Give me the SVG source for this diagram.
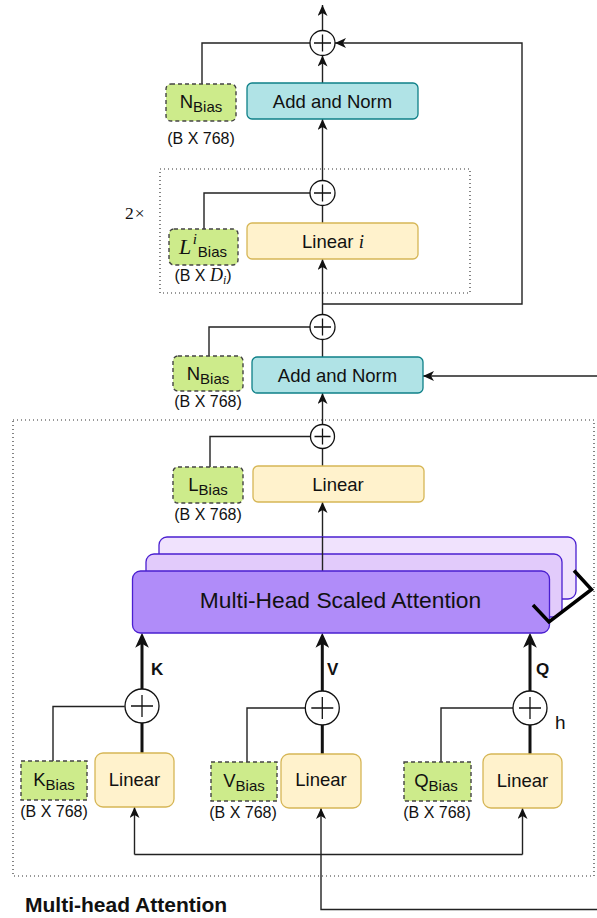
<svg xmlns="http://www.w3.org/2000/svg" width="597" height="918" viewBox="0 0 597 918">
  <style>
    text { font-family: "Liberation Sans", Arial, sans-serif; fill: #111; }
    .lbl { font-size: 18.5px; text-anchor: middle; }
    .sub { font-size: 15px; }
    .dim { font-size: 16px; text-anchor: middle; }
    .math { font-family: "Liberation Serif", "DejaVu Serif", serif; font-style: italic; }
    .norm { fill: #b0e3e6; stroke: #0e8088; stroke-width: 1.3; }
    .lin { fill: #fff2cc; stroke: #d6b656; stroke-width: 1.3; }
    .bias { fill: #cdeb8b; stroke: #444; stroke-width: 1.4; stroke-dasharray: 4 3; }
    .frame { fill: none; stroke: #333; stroke-width: 1.2; stroke-dasharray: 1 3; }
    .wire { fill: none; stroke: #222; stroke-width: 1.4; }
    .thick { fill: none; stroke: #111; stroke-width: 3; }
    .add circle { fill: #fff; stroke: #111; stroke-width: 1.3; }
    .add path { fill: none; stroke: #111; stroke-width: 1.3; }
    .head { stroke: #4a1fd0; stroke-width: 1.3; }
    .qkv { font-size: 17px; font-weight: bold; }
  </style>
  <defs>
    <marker id="arr" viewBox="0 0 11 10" refX="11" refY="5" markerWidth="11" markerHeight="10" markerUnits="userSpaceOnUse" orient="auto">
      <path d="M0,0 L11,5 L0,10 L3,5 Z" fill="#111"/>
    </marker>
    <marker id="arrBold" viewBox="0 0 11 10" refX="7.5" refY="5" markerWidth="15" markerHeight="14" markerUnits="userSpaceOnUse" orient="auto">
      <path d="M0,0 L11,5 L0,10 L3,5 Z" fill="#111"/>
    </marker>
  </defs>

  <!-- frames -->
  <rect class="frame" x="160" y="169" width="310" height="124"/>
  <rect class="frame" x="13" y="420" width="581" height="456"/>
  <text x="125" y="219" style="font-family:'Liberation Serif','DejaVu Serif',serif;font-size:17.5px">2<tspan dx="1">×</tspan></text>
  <text x="25" y="912" style="font-size:21px;font-weight:bold">Multi-head Attention</text>

  <!-- connectors -->
  <g id="connectors">
    <line class="wire" x1="322.5" y1="30.5" x2="322.5" y2="5" marker-end="url(#arr)"/>
    <polyline class="wire" points="202,84 202,43 310,43"/>
    <line class="wire" x1="322.5" y1="83" x2="322.5" y2="55.5" marker-end="url(#arr)"/>
    <polyline class="wire" points="322.5,304 522,304 522,43 335,43" marker-end="url(#arr)"/>
    <line class="wire" x1="322.5" y1="180.5" x2="322.5" y2="119" marker-end="url(#arr)"/>
    <polyline class="wire" points="204,229 204,193 310,193"/>
    <line class="wire" x1="322.5" y1="223" x2="322.5" y2="205.5"/>
    <line class="wire" x1="322.5" y1="314.5" x2="322.5" y2="259" marker-end="url(#arr)"/>
    <polyline class="wire" points="209,356 209,327 310,327"/>
    <line class="wire" x1="322.5" y1="357" x2="322.5" y2="339.5"/>
    <line class="wire" x1="597" y1="376" x2="423" y2="376" marker-end="url(#arr)"/>
    <line class="wire" x1="322.5" y1="424.5" x2="322.5" y2="393" marker-end="url(#arr)"/>
    <polyline class="wire" points="210,467 210,436.5 310.5,436.5"/>
    <line class="wire" x1="322.5" y1="466" x2="322.5" y2="448.5"/>
    <line class="wire" x1="322.5" y1="571" x2="322.5" y2="502" marker-end="url(#arr)"/>

    <!-- K / V / Q branches -->
    <polyline class="wire" points="53,761 53,706.5 124.7,706.5"/>
    <polyline class="wire" points="247,762 247,708 305.3,708"/>
    <polyline class="wire" points="441,762 441,708 513,708"/>
    <line class="thick" x1="142" y1="753" x2="142" y2="723"/>
    <line class="thick" x1="322.3" y1="754" x2="322.3" y2="725"/>
    <line class="thick" x1="530" y1="754" x2="530" y2="725"/>
    <line class="thick" x1="142" y1="689" x2="142" y2="637.5" marker-end="url(#arrBold)"/>
    <line class="thick" x1="322.3" y1="691" x2="322.3" y2="637.5" marker-end="url(#arrBold)"/>
    <line class="thick" x1="530" y1="691" x2="530" y2="637.5" marker-end="url(#arrBold)"/>

    <polyline class="wire" points="134.5,854.5 522.5,854.5"/>
    <line class="wire" x1="134.5" y1="854.5" x2="134.5" y2="807" marker-end="url(#arr)"/>
    <line class="wire" x1="522.5" y1="854.5" x2="522.5" y2="808" marker-end="url(#arr)"/>
    <polyline class="wire" points="597,909.5 321,909.5 321,808" marker-end="url(#arr)"/>
  </g>

  <!-- output block -->
  <g id="sum-out" class="add"><circle cx="322.5" cy="43" r="12.5"/><path d="M314,43 H331 M322.5,34.5 V51.5"/></g>
  <g id="n-bias-out">
    <rect class="bias" x="166" y="84" width="70" height="37" rx="5"/>
    <text class="lbl" x="201" y="108">N<tspan class="sub" dy="4">Bias</tspan></text>
    <text class="dim" x="201" y="144">(B X 768)</text>
  </g>
  <g id="add-norm-out">
    <rect class="norm" x="247" y="83" width="171" height="36" rx="5"/>
    <text class="lbl" x="332.5" y="108">Add and Norm</text>
  </g>

  <!-- feed-forward stack -->
  <g id="sum-ff" class="add"><circle cx="322.5" cy="193" r="12.5"/><path d="M314,193 H331 M322.5,184.5 V201.5"/></g>
  <g id="l-bias-ff">
    <rect class="bias" x="169" y="229" width="69" height="36" rx="5"/>
    <text class="lbl" x="203" y="254"><tspan class="math" font-size="22">L</tspan><tspan class="math" font-size="15" dx="1.5" dy="-10">i</tspan><tspan class="sub" dx="1" dy="13">Bias</tspan></text>
    <text class="dim" x="203" y="281">(B X <tspan class="math" font-size="18">D</tspan><tspan class="math" font-size="12" dy="3">i</tspan><tspan dy="-3">)</tspan></text>
  </g>
  <g id="linear-ff">
    <rect class="lin" x="247" y="223" width="171" height="36" rx="5"/>
    <text class="lbl" x="333" y="248">Linear <tspan class="math" font-size="19">i</tspan></text>
  </g>

  <!-- attention output -->
  <g id="sum-attn" class="add"><circle cx="322.5" cy="327" r="12.5"/><path d="M314,327 H331 M322.5,318.5 V335.5"/></g>
  <g id="n-bias-attn">
    <rect class="bias" x="173" y="356" width="70" height="35" rx="5"/>
    <text class="lbl" x="208" y="379.5">N<tspan class="sub" dy="4">Bias</tspan></text>
    <text class="dim" x="208" y="407">(B X 768)</text>
  </g>
  <g id="add-norm-attn">
    <rect class="norm" x="252" y="357" width="171" height="36" rx="5"/>
    <text class="lbl" x="337.5" y="382">Add and Norm</text>
  </g>

  <!-- projection -->
  <g id="sum-proj" class="add"><circle cx="322.5" cy="436.5" r="12"/><path d="M314.5,436.5 H330.5 M322.5,428.5 V444.5"/></g>
  <g id="l-bias-proj">
    <rect class="bias" x="173" y="467" width="70" height="36" rx="5"/>
    <text class="lbl" x="208" y="491">L<tspan class="sub" dy="4">Bias</tspan></text>
    <text class="dim" x="208" y="520">(B X 768)</text>
  </g>
  <g id="linear-proj">
    <rect class="lin" x="253" y="466" width="171" height="36" rx="5"/>
    <text class="lbl" x="338" y="491">Linear</text>
  </g>

  <!-- attention heads -->
  <g id="attention-heads">
    <rect class="head" x="159" y="537" width="417" height="62" rx="8" fill="#f0e2fd"/>
    <rect class="head" x="146" y="554" width="416" height="63" rx="8" fill="#e2cbfb"/>
    <line class="wire" x1="322.5" y1="537" x2="322.5" y2="571"/>
    <rect class="head" x="132.5" y="571" width="417" height="62" rx="8" fill="#b08cf9"/>
    <text x="340.5" y="608" style="font-size:22.8px;text-anchor:middle">Multi-Head Scaled Attention</text>
    <polyline points="533,605 549,622 591.5,589.5 574,570.5" fill="none" stroke="#000" stroke-width="3.5"/>
  </g>

  <!-- K branch -->
  <g id="sum-k" class="add"><circle cx="142" cy="706" r="17"/><path d="M131,706 H153 M142,695 V717"/></g>
  <text class="qkv" x="151" y="675">K</text>
  <g id="k-bias">
    <rect class="bias" x="21" y="761" width="66" height="39"/>
    <text class="lbl" x="54" y="786">K<tspan class="sub" dy="4">Bias</tspan></text>
    <text class="dim" x="54" y="817">(B X 768)</text>
  </g>
  <g id="linear-k">
    <rect class="lin" x="95" y="753" width="79" height="54" rx="8"/>
    <text class="lbl" x="134.5" y="786">Linear</text>
  </g>

  <!-- V branch -->
  <g id="sum-v" class="add"><circle cx="322.3" cy="708" r="17"/><path d="M311.3,708 H333.3 M322.3,697 V719"/></g>
  <text class="qkv" x="327" y="675">V</text>
  <g id="v-bias">
    <rect class="bias" x="211" y="762" width="66" height="39"/>
    <text class="lbl" x="244" y="787">V<tspan class="sub" dy="4">Bias</tspan></text>
    <text class="dim" x="243" y="818">(B X 768)</text>
  </g>
  <g id="linear-v">
    <rect class="lin" x="281" y="754" width="80" height="54" rx="8"/>
    <text class="lbl" x="321" y="786">Linear</text>
  </g>

  <!-- Q branch -->
  <g id="sum-q" class="add"><circle cx="530" cy="708" r="17"/><path d="M519,708 H541 M530,697 V719"/></g>
  <text class="qkv" x="536" y="675">Q</text>
  <text x="555" y="729" style="font-size:19px">h</text>
  <g id="q-bias">
    <rect class="bias" x="404" y="762" width="67" height="39"/>
    <text class="lbl" x="436" y="787">Q<tspan class="sub" dy="4">Bias</tspan></text>
    <text class="dim" x="437" y="818">(B X 768)</text>
  </g>
  <g id="linear-q">
    <rect class="lin" x="483" y="754" width="79" height="54" rx="8"/>
    <text class="lbl" x="522.5" y="787">Linear</text>
  </g>
</svg>
